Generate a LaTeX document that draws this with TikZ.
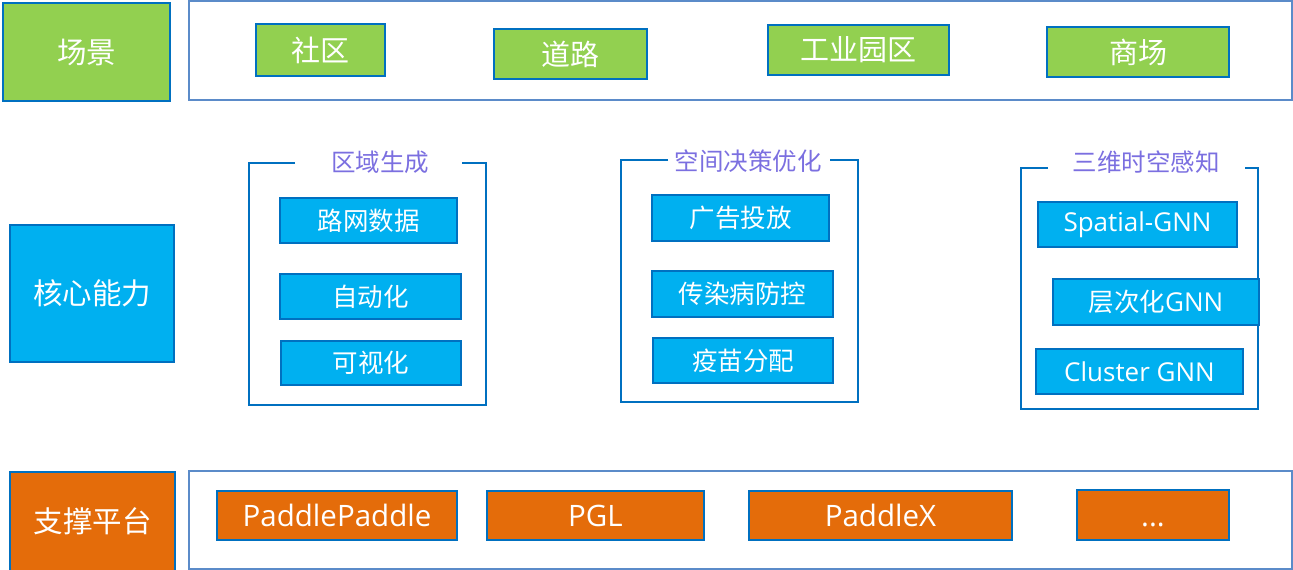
\documentclass[tikz,border=0pt]{standalone}
\usepackage{fontspec}
\setmainfont{Open Sans}
\newfontfamily\cjk{Noto Sans CJK SC}
\begin{document}
\begin{tikzpicture}[x=1pt,y=-1pt,
  bx/.style={draw=blueB,line width=2pt,text=white,inner sep=0pt,anchor=north west},
  grn/.style={bx,fill=greenF},
  cyn/.style={bx,fill=cyanF},
  org/.style={bx,fill=orangeF},
  outer/.style={draw=blueL,line width=2pt},
  brk/.style={draw=blueB,line width=2pt},
  ttl/.style={text=purpleT,font=\cjk\fontsize{24.5}{28}\selectfont,inner sep=0pt},
  big/.style={font=\cjk\fontsize{29.5}{32}\selectfont},
  mid/.style={font=\cjk\fontsize{29}{32}\selectfont},
  midl/.style={font=\fontsize{29.5}{32}\selectfont},
  sml/.style={font=\cjk\fontsize{25.5}{28}\selectfont},
  smll/.style={font=\fontsize{26}{28}\selectfont}]
\definecolor{blueB}{HTML}{0070C0}
\definecolor{blueL}{HTML}{5B8BC9}
\definecolor{greenF}{HTML}{92D050}
\definecolor{cyanF}{HTML}{00B0F0}
\definecolor{orangeF}{HTML}{E46C0A}
\definecolor{purpleT}{HTML}{7B6FE0}
\useasboundingbox (0,0) rectangle (1293,570);
% row labels
\node[grn,big,minimum width=167,minimum height=98] (cj) at (2,2) {场景};
\node[cyn,big,minimum width=164,minimum height=137] (hx) at (9,224) {核心能力};
\node[org,big,minimum width=165,minimum height=99] (zc) at (9,471) {支撑平台};
% outer boxes
\draw[outer] (189,1) rectangle (1292,100);
\draw[outer] (189,471) rectangle (1292,569);
% scene items
\node[grn,mid,minimum width=129,minimum height=52] (sq) at (255,23) {社区};
\node[grn,mid,minimum width=153,minimum height=50] (dl) at (493,28) {道路};
\node[grn,mid,minimum width=181,minimum height=50] (gy) at (767,24) {工业园区};
\node[grn,mid,minimum width=182,minimum height=50] (sc) at (1046,26) {商场};
% platform items
\node[org,midl,minimum width=240,minimum height=49] (pp) at (216,490) {PaddlePaddle};
\node[org,midl,minimum width=217,minimum height=49] (pgl) at (486,490) {PGL};
\node[org,midl,minimum width=263,minimum height=49] (px) at (748,490) {PaddleX};
\node[org,midl,minimum width=152,minimum height=50] (dots) at (1076,489) {\vphantom{Pd}...};
% group 1
\node[ttl] (t1) at (380,162) {区域生成};
\draw[brk] (295,163) -- (249,163) -- (249,405) -- (486,405) -- (486,163) -- (462,163);
\node[cyn,sml,minimum width=177,minimum height=45] (a1) at (279,197) {路网数据};
\node[cyn,sml,minimum width=181,minimum height=45] (a2) at (279,273) {自动化};
\node[cyn,sml,minimum width=180,minimum height=44] (a3) at (280,340) {可视化};
% group 2
\node[ttl] (t2) at (748,161) {空间决策优化};
\draw[brk] (668,160) -- (621,160) -- (621,402) -- (858,402) -- (858,160) -- (830,160);
\node[cyn,sml,minimum width=177,minimum height=46] (b1) at (651,194) {广告投放};
\node[cyn,sml,minimum width=181,minimum height=46] (b2) at (651,270) {传染病防控};
\node[cyn,sml,minimum width=180,minimum height=45] (b3) at (652,337) {疫苗分配};
% group 3
\node[ttl] (t3) at (1146,162) {三维时空感知};
\draw[brk] (1048,168) -- (1021,168) -- (1021,409) -- (1258,409) -- (1258,168) -- (1245,168);
\node[cyn,smll,minimum width=199,minimum height=45] (c1) at (1037,201) {Spatial-GNN};
\node[cyn,smll,minimum width=206,minimum height=46] (c2) at (1052,278) {{\cjk\fontsize{25.5}{28}\selectfont 层次化}GNN};
\node[cyn,smll,minimum width=207,minimum height=45] (c3) at (1035,348) {Cluster GNN};
\end{tikzpicture}
\end{document}
